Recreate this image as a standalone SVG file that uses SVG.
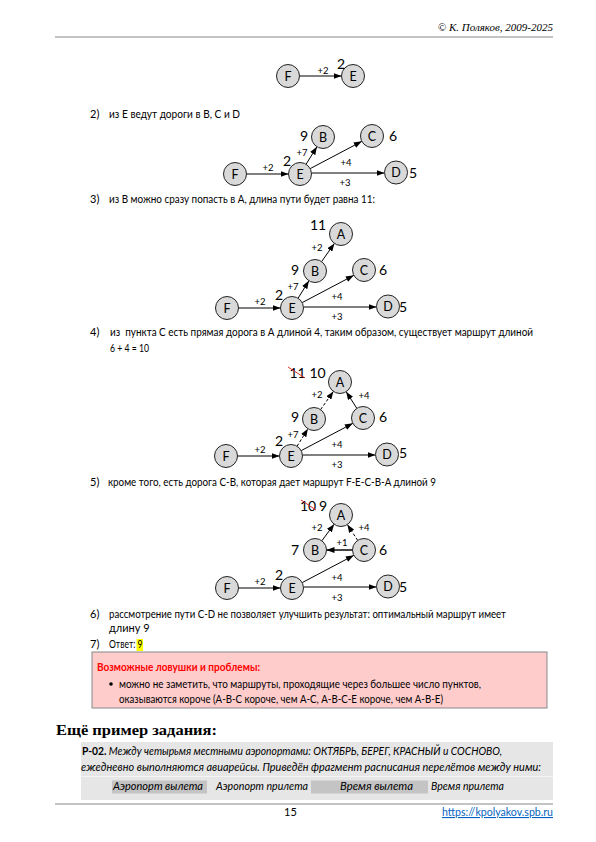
<svg xmlns="http://www.w3.org/2000/svg" width="596" height="842" viewBox="0 0 596 842">
<style>
text{font-family:Lato,"Noto Sans",sans-serif;fill:#000}
.t{font-size:11px}
.n circle{fill:#d9d9d9;stroke:#222;stroke-width:1}
.n text{font-size:12.5px;text-anchor:middle}
.el{font-size:9.5px;text-anchor:middle}
.v{font-size:14px;text-anchor:middle}
.e{stroke:#000;stroke-width:1;fill:none;marker-end:url(#ah)}
.d{stroke-dasharray:3,2}
.st{stroke:#e03030;stroke-width:1}
.hdr{font-family:"Liberation Serif",serif;font-style:italic;font-size:11px}
.it{font-style:italic;font-size:10.5px}
</style>
<defs>
<marker id="ah" markerUnits="userSpaceOnUse" markerWidth="8" markerHeight="6" refX="8" refY="3" orient="auto">
<path d="M0,0 L8,3 L0,6 z" fill="#000"/>
</marker>
</defs>
<rect width="596" height="842" fill="#fff"/>

<!-- header -->
<text class="hdr" x="553" y="31" text-anchor="end">© К. Поляков, 2009-2025</text>
<line x1="55" y1="37" x2="553" y2="37" stroke="#888" stroke-width="1"/>

<!-- graph 1 -->
<g id="g1-edges"><line class="e" x1="299.5" y1="76" x2="341.5" y2="76"/></g>
<g id="g1-F" class="n"><circle cx="288" cy="76" r="11.5"/><text x="288" y="80.5">F</text></g>
<g id="g1-E" class="n"><circle cx="353" cy="76" r="11.5"/><text x="353" y="80.5">E</text></g>
<text class="el" x="323" y="74">+2</text>
<text class="v" x="341" y="69">2</text>

<text class="t" x="90" y="118">2)</text>
<text class="t" x="109" y="118" textLength="131" lengthAdjust="spacingAndGlyphs">из E ведут дороги в B, C и D</text>

<!-- graph 2 -->
<g id="g2-edges">
<line class="e" x1="246.5" y1="174" x2="288.5" y2="174"/>
<line class="e" x1="306.07" y1="164.23" x2="316.93" y2="146.77"/>
<line class="e" x1="310.17" y1="168.63" x2="361.83" y2="141.37"/>
<line class="e" x1="311.5" y1="173" x2="384.5" y2="173"/>
</g>
<g id="g2-F" class="n"><circle cx="235" cy="174" r="11.5"/><text x="235" y="178.5">F</text></g>
<g id="g2-E" class="n"><circle cx="300" cy="174" r="11.5"/><text x="300" y="178.5">E</text></g>
<g id="g2-B" class="n"><circle cx="323" cy="137" r="11.5"/><text x="323" y="141.5">B</text></g>
<g id="g2-C" class="n"><circle cx="372" cy="136" r="11.5"/><text x="372" y="140.5">C</text></g>
<g id="g2-D" class="n"><circle cx="396" cy="172.5" r="11.5"/><text x="396" y="177">D</text></g>
<text class="el" x="268" y="171">+2</text>
<text class="el" x="302" y="156">+7</text>
<text class="el" x="346" y="166">+4</text>
<text class="el" x="345" y="186">+3</text>
<text class="v" x="287" y="166">2</text>
<text class="v" x="304" y="141">9</text>
<text class="v" x="393" y="141">6</text>
<text class="v" x="413" y="178">5</text>

<text class="t" x="90" y="203">3)</text>
<text class="t" x="109" y="203" textLength="266" lengthAdjust="spacingAndGlyphs">из В можно сразу попасть в А, длина пути будет равна 11:</text>

<!-- graph 3 -->
<g id="g3-edges">
<line class="e" x1="238.5" y1="308" x2="280.5" y2="308"/>
<line class="e" x1="298.07" y1="298.23" x2="308.93" y2="280.77"/>
<line class="e" x1="302.17" y1="302.63" x2="353.83" y2="275.37"/>
<line class="e" x1="303.5" y1="307" x2="376.5" y2="307"/>
<line class="e" x1="321.61" y1="261.59" x2="334.39" y2="243.41"/>
</g>
<g id="g3-F" class="n"><circle cx="227" cy="308" r="11.5"/><text x="227" y="312.5">F</text></g>
<g id="g3-E" class="n"><circle cx="292" cy="308" r="11.5"/><text x="292" y="312.5">E</text></g>
<g id="g3-B" class="n"><circle cx="315" cy="271" r="11.5"/><text x="315" y="275.5">B</text></g>
<g id="g3-C" class="n"><circle cx="364" cy="270" r="11.5"/><text x="364" y="274.5">C</text></g>
<g id="g3-D" class="n"><circle cx="388" cy="306.5" r="11.5"/><text x="388" y="311">D</text></g>
<g id="g3-A" class="n"><circle cx="341" cy="234" r="11.5"/><text x="341" y="238.5">A</text></g>
<text class="el" x="260" y="305">+2</text>
<text class="el" x="293" y="290">+7</text>
<text class="el" x="337" y="300">+4</text>
<text class="el" x="337" y="320">+3</text>
<text class="el" x="317" y="251">+2</text>
<text class="v" x="279" y="300">2</text>
<text class="v" x="295" y="275">9</text>
<text class="v" x="383" y="275">6</text>
<text class="v" x="403" y="312">5</text>
<text class="v" x="318" y="230">11</text>

<text class="t" x="90" y="336">4)</text>
<text class="t" x="110" y="336" xml:space="preserve" textLength="423" lengthAdjust="spacingAndGlyphs">из  пункта С есть прямая дорога в А длиной 4, таким образом, существует маршрут длиной</text>
<text class="t" x="110" y="352" textLength="39" lengthAdjust="spacingAndGlyphs">6 + 4 = 10</text>

<!-- graph 4 -->
<g id="g4-edges">
<line class="e" x1="237.5" y1="456" x2="279.5" y2="456"/>
<line class="e d" x1="297.07" y1="446.23" x2="307.93" y2="428.77"/>
<line class="e" x1="301.17" y1="450.63" x2="352.83" y2="423.37"/>
<line class="e" x1="302.5" y1="455" x2="375.5" y2="455"/>
<line class="e d" x1="320.61" y1="409.59" x2="333.39" y2="391.41"/>
<line class="e" x1="356.81" y1="408.31" x2="346.19" y2="391.69"/>
</g>
<g id="g4-F" class="n"><circle cx="226" cy="456" r="11.5"/><text x="226" y="460.5">F</text></g>
<g id="g4-E" class="n"><circle cx="291" cy="456" r="11.5"/><text x="291" y="460.5">E</text></g>
<g id="g4-B" class="n"><circle cx="314" cy="419" r="11.5"/><text x="314" y="423.5">B</text></g>
<g id="g4-C" class="n"><circle cx="363" cy="418" r="11.5"/><text x="363" y="422.5">C</text></g>
<g id="g4-D" class="n"><circle cx="387" cy="454.5" r="11.5"/><text x="387" y="459">D</text></g>
<g id="g4-A" class="n"><circle cx="340" cy="382" r="11.5"/><text x="340" y="386.5">A</text></g>
<text class="el" x="260" y="453">+2</text>
<text class="el" x="293" y="438">+7</text>
<text class="el" x="337" y="448">+4</text>
<text class="el" x="337" y="468">+3</text>
<text class="el" x="317" y="398">+2</text>
<text class="el" x="364" y="399">+4</text>
<text class="v" x="279" y="446">2</text>
<text class="v" x="295" y="422">9</text>
<text class="v" x="383" y="422">6</text>
<text class="v" x="403" y="458">5</text>
<text class="v" x="297.5" y="378">11</text>
<text class="v" x="317.5" y="378">10</text>
<line class="st" x1="288" y1="367" x2="305" y2="378"/>

<text class="t" x="90" y="486">5)</text>
<text class="t" x="108" y="486" textLength="328" lengthAdjust="spacingAndGlyphs">кроме того, есть дорога С-В, которая дает маршрут F-E-C-B-A длиной 9</text>

<!-- graph 5 -->
<g id="g5-edges">
<line class="e" x1="238.5" y1="588" x2="280.5" y2="588"/>
<line class="e" x1="302.17" y1="582.63" x2="353.83" y2="555.37"/>
<line class="e" x1="303.5" y1="587" x2="376.5" y2="587"/>
<line class="e" x1="321.86" y1="540.77" x2="334.14" y2="524.23"/>
<line class="e d" x1="357.68" y1="540.39" x2="347.32" y2="524.61"/>
<line class="e" style="stroke:#444;stroke-width:2" x1="352.5" y1="550" x2="326.5" y2="550"/>
</g>
<g id="g5-F" class="n"><circle cx="227" cy="588" r="11.5"/><text x="227" y="592.5">F</text></g>
<g id="g5-E" class="n"><circle cx="292" cy="588" r="11.5"/><text x="292" y="592.5">E</text></g>
<g id="g5-B" class="n"><circle cx="315" cy="550" r="11.5"/><text x="315" y="554.5">B</text></g>
<g id="g5-C" class="n"><circle cx="364" cy="550" r="11.5"/><text x="364" y="554.5">C</text></g>
<g id="g5-D" class="n"><circle cx="388" cy="586.5" r="11.5"/><text x="388" y="591">D</text></g>
<g id="g5-A" class="n"><circle cx="341" cy="515" r="11.5"/><text x="341" y="519.5">A</text></g>
<text class="el" x="260" y="585">+2</text>
<text class="el" x="337" y="581">+4</text>
<text class="el" x="337" y="601">+3</text>
<text class="el" x="317" y="531">+2</text>
<text class="el" x="364" y="531">+4</text>
<text class="el" x="342" y="546">+1</text>
<text class="v" x="279" y="580">2</text>
<text class="v" x="295" y="555">7</text>
<text class="v" x="383" y="555">6</text>
<text class="v" x="403" y="592">5</text>
<text class="v" x="308" y="511">10</text>
<text class="v" x="323" y="511">9</text>
<line class="st" x1="301" y1="500" x2="316" y2="510"/>

<text class="t" x="90" y="618">6)</text>
<text class="t" x="109" y="618" textLength="397" lengthAdjust="spacingAndGlyphs">рассмотрение пути С-D не позволяет улучшить результат: оптимальный маршрут имеет</text>
<text class="t" x="109" y="632">длину 9</text>
<text class="t" x="90" y="648">7)</text>
<rect x="136.5" y="639" width="6.5" height="12" fill="#ffff00"/>
<text class="t" x="109" y="648" textLength="33.5" lengthAdjust="spacingAndGlyphs">Ответ: 9</text>

<!-- pitfalls box -->
<rect x="92" y="652" width="455" height="56" fill="#ffcccc" stroke="#888" stroke-width="1"/>
<text class="t" x="97" y="671" style="font-weight:bold;fill:#ff0000" textLength="163" lengthAdjust="spacingAndGlyphs">Возможные ловушки и проблемы:</text>
<circle cx="111" cy="684" r="1.8" fill="#000"/>
<text class="t" x="119" y="688" textLength="362" lengthAdjust="spacingAndGlyphs">можно не заметить, что маршруты, проходящие через большее число пунктов,</text>
<text class="t" x="119" y="703" textLength="324" lengthAdjust="spacingAndGlyphs">оказываются короче (А-В-С короче, чем А-С, А-В-С-Е короче, чем А-В-Е)</text>

<text x="56" y="735" style="font-family:'Liberation Serif',serif;font-weight:bold;font-size:14.5px" textLength="161" lengthAdjust="spacingAndGlyphs">Ещё пример задания:</text>

<!-- task box -->
<rect x="81" y="742" width="472" height="58" fill="#e6e6e6"/>
<line x1="81" y1="776.5" x2="553" y2="776.5" stroke="#f4f4f4" stroke-width="1"/>
<text class="t" x="82" y="755" textLength="420" lengthAdjust="spacingAndGlyphs"><tspan style="font-weight:bold">P-02.</tspan><tspan style="font-style:italic"> Между четырьмя местными аэропортами: ОКТЯБРЬ, БЕРЕГ, КРАСНЫЙ и СОСНОВО,</tspan></text>
<text class="t" x="81" y="771" style="font-style:italic" textLength="460" lengthAdjust="spacingAndGlyphs">ежедневно выполняются авиарейсы. Приведён фрагмент расписания перелётов между ними:</text>
<rect x="112" y="780.5" width="95" height="13" fill="#c4c4c4"/>
<rect x="311" y="780.5" width="117" height="13" fill="#c4c4c4"/>
<text class="it" x="113" y="790" textLength="90" lengthAdjust="spacingAndGlyphs">Аэропорт вылета</text>
<text class="it" x="216" y="790" textLength="92" lengthAdjust="spacingAndGlyphs">Аэропорт прилета</text>
<text class="it" x="340" y="790" textLength="73" lengthAdjust="spacingAndGlyphs">Время вылета</text>
<text class="it" x="431" y="790" textLength="73" lengthAdjust="spacingAndGlyphs">Время прилета</text>

<!-- footer -->
<line x1="55" y1="804" x2="553" y2="804" stroke="#888" stroke-width="1"/>
<text class="t" x="290.5" y="816" text-anchor="middle">15</text>
<text class="t" x="442" y="816" style="fill:#0563c1;text-decoration:underline" textLength="111" lengthAdjust="spacingAndGlyphs">https://kpolyakov.spb.ru</text>
</svg>
